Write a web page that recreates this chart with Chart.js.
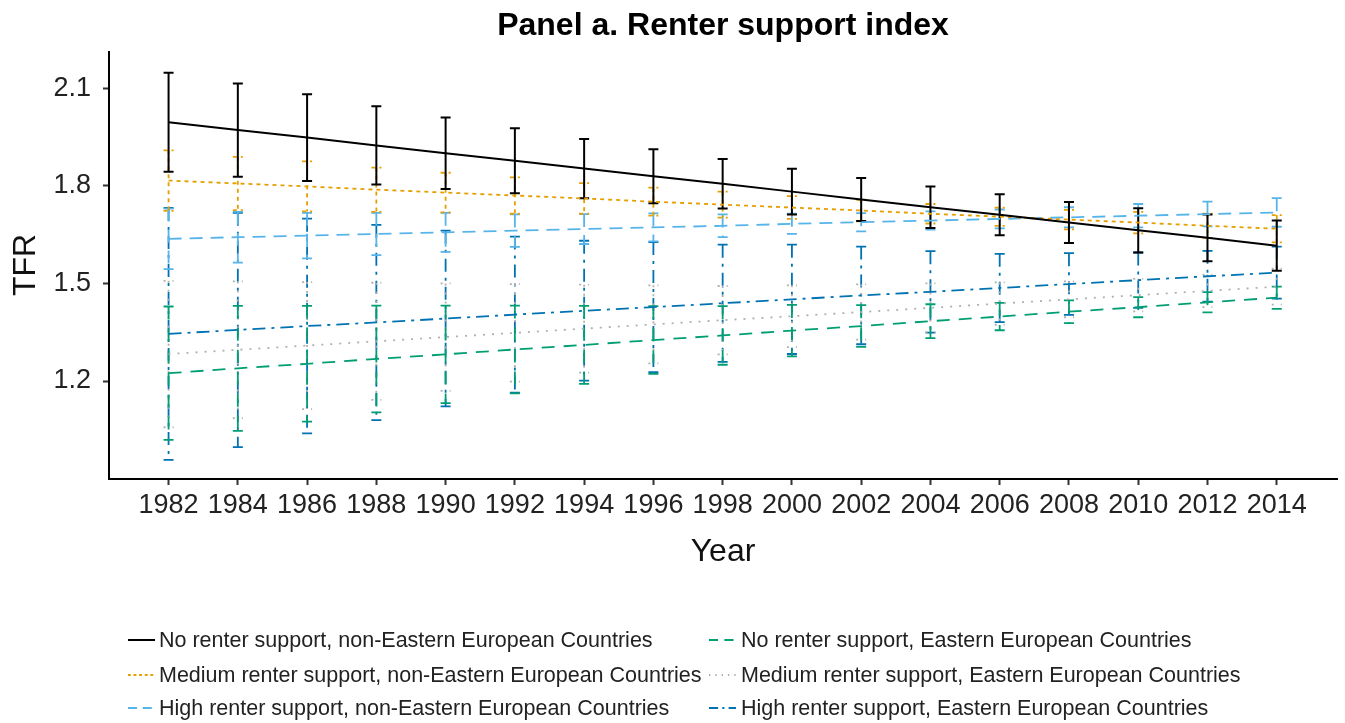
<!DOCTYPE html>
<html>
<head>
<meta charset="utf-8">
<script src="https://cdn.jsdelivr.net/npm/chart.js@4.4.1/dist/chart.umd.min.js"></script>
<style>
  body { margin: 0; background: #fff; }
  #wrap { width: 1345px; height: 723px; }
</style>
</head>
<body>
<div id="wrap"><canvas id="tfr-chart" width="1345" height="723"></canvas></div>
<script>
// survey years
const years = [1982, 1984, 1986, 1988, 1990, 1992, 1994, 1996, 1998, 2000, 2002, 2004, 2006, 2008, 2010, 2012, 2014];
const yTicks = [1.2, 1.5, 1.8, 2.1];

// predicted TFR and 95% CI half-widths, non-Eastern European countries
const noNonEast = [1.995, 1.971, 1.948, 1.924, 1.900, 1.877, 1.853, 1.829, 1.806, 1.782, 1.758, 1.734, 1.711, 1.687, 1.663, 1.640, 1.616];
const noNonEastErr = [0.152, 0.143, 0.133, 0.120, 0.110, 0.100, 0.091, 0.083, 0.076, 0.070, 0.066, 0.064, 0.063, 0.063, 0.068, 0.072, 0.077];
const medNonEast = [1.816, 1.807, 1.798, 1.788, 1.779, 1.770, 1.761, 1.751, 1.742, 1.733, 1.724, 1.714, 1.705, 1.696, 1.687, 1.677, 1.668];
const medNonEastErr = [0.093, 0.082, 0.077, 0.068, 0.061, 0.056, 0.047, 0.043, 0.040, 0.035, 0.033, 0.030, 0.028, 0.030, 0.033, 0.037, 0.042];
const highNonEast = [1.637, 1.642, 1.647, 1.652, 1.657, 1.662, 1.667, 1.672, 1.677, 1.683, 1.688, 1.693, 1.698, 1.703, 1.708, 1.713, 1.718];
const highNonEastErr = [0.093, 0.078, 0.070, 0.065, 0.060, 0.050, 0.046, 0.043, 0.035, 0.031, 0.028, 0.028, 0.029, 0.031, 0.036, 0.038, 0.044];

// Eastern European countries
const noEast = [1.224, 1.239, 1.253, 1.268, 1.282, 1.297, 1.311, 1.326, 1.340, 1.355, 1.369, 1.384, 1.398, 1.413, 1.427, 1.442, 1.456];
const noEastErr = [0.205, 0.192, 0.178, 0.164, 0.150, 0.135, 0.120, 0.104, 0.090, 0.079, 0.064, 0.052, 0.042, 0.035, 0.031, 0.031, 0.034];
const medEast = [1.283, 1.296, 1.309, 1.322, 1.335, 1.348, 1.361, 1.374, 1.387, 1.399, 1.412, 1.425, 1.438, 1.451, 1.464, 1.477, 1.490];
const medEastErr = [0.225, 0.210, 0.195, 0.180, 0.165, 0.150, 0.135, 0.120, 0.105, 0.095, 0.085, 0.075, 0.065, 0.055, 0.050, 0.050, 0.055];
const highEast = [1.345, 1.357, 1.369, 1.380, 1.392, 1.404, 1.416, 1.427, 1.439, 1.451, 1.463, 1.474, 1.486, 1.498, 1.510, 1.522, 1.533];
const highEastErr = [0.387, 0.360, 0.330, 0.300, 0.270, 0.240, 0.215, 0.200, 0.180, 0.168, 0.150, 0.125, 0.105, 0.095, 0.085, 0.078, 0.080];

const FONT = "'Liberation Sans', Arial, Helvetica, sans-serif";

const series = [
  { label: 'No renter support, non-Eastern European Countries', values: noNonEast, err: noNonEastErr, color: '#000000', dash: [], width: 2 },
  { label: 'Medium renter support, non-Eastern European Countries', values: medNonEast, err: medNonEastErr, color: '#E69F00', dash: [4, 4], width: 1.8 },
  { label: 'High renter support, non-Eastern European Countries', values: highNonEast, err: highNonEastErr, color: '#56B4E9', dash: [13, 8], width: 1.8 },
  { label: 'No renter support, Eastern European Countries', values: noEast, err: noEastErr, color: '#009E73', dash: [13, 9], width: 1.8 },
  { label: 'Medium renter support, Eastern European Countries', values: medEast, err: medEastErr, color: '#B0B0B0', dash: [2, 7], width: 1.8 },
  { label: 'High renter support, Eastern European Countries', values: highEast, err: highEastErr, color: '#0072B2', dash: [13, 6, 3, 6], width: 1.8 }
];

// vertical CI bars with caps, drawn under the fitted lines
const errorBars = {
  id: 'errorBars',
  beforeDatasetsDraw(chart) {
    const { ctx, scales: { x, y } } = chart;
    for (let i = series.length - 1; i >= 0; i--) {
      const s = series[i];
      ctx.save();
      ctx.strokeStyle = s.color;
      ctx.lineWidth = s.width;
      ctx.setLineDash(s.dash);
      s.values.forEach((v, j) => {
        const px = x.getPixelForValue(years[j]);
        const top = y.getPixelForValue(v + s.err[j]);
        const bot = y.getPixelForValue(v - s.err[j]);
        ctx.beginPath();
        ctx.moveTo(px, top);
        ctx.lineTo(px, bot);
        ctx.stroke();
        ctx.beginPath();
        ctx.moveTo(px - 5, top);
        ctx.lineTo(px + 5, top);
        ctx.moveTo(px - 5, bot);
        ctx.lineTo(px + 5, bot);
        ctx.stroke();
      });
      ctx.restore();
    }
  }
};

// title, axis titles and the two-column legend underneath
const decorations = {
  id: 'decorations',
  afterDraw(chart) {
    const { ctx, chartArea } = chart;
    const cx = (chartArea.left + chartArea.right) / 2;
    ctx.save();
    ctx.fillStyle = '#000';
    ctx.textAlign = 'center';
    ctx.textBaseline = 'middle';
    ctx.font = 'bold 32px ' + FONT;
    ctx.fillText('Panel a. Renter support index', cx, 26);

    ctx.fillStyle = '#111';
    ctx.font = '32px ' + FONT;
    ctx.fillText('Year', cx, 552);
    ctx.save();
    ctx.translate(26, 265);
    ctx.rotate(-Math.PI / 2);
    ctx.fillText('TFR', 0, 0);
    ctx.restore();

    const cols = [{ key: 128, text: 159 }, { key: 709, text: 741 }];
    const rows = [640, 675, 708];
    ctx.font = '21.5px ' + FONT;
    ctx.textAlign = 'left';
    series.forEach((s, i) => {
      const col = cols[Math.floor(i / 3)];
      const ry = rows[i % 3];
      ctx.save();
      ctx.strokeStyle = s.color;
      ctx.lineWidth = s.width;
      ctx.setLineDash(s.dash.map(d => d * 0.7));
      ctx.beginPath();
      ctx.moveTo(col.key, ry);
      ctx.lineTo(col.key + 27, ry);
      ctx.stroke();
      ctx.restore();
      ctx.fillStyle = '#222';
      ctx.fillText(s.label, col.text, ry + 1);
    });
    ctx.restore();
  }
};

new Chart(document.getElementById('tfr-chart').getContext('2d'), {
  type: 'line',
  data: {
    datasets: series.map(s => ({
      label: s.label,
      data: s.values.map((v, j) => ({ x: years[j], y: v })),
      borderColor: s.color,
      borderWidth: s.width,
      borderDash: s.dash,
      pointRadius: 0,
      fill: false,
      tension: 0
    }))
  },
  options: {
    responsive: false,
    animation: false,
    layout: { padding: { top: 52, right: 8, left: 0, bottom: 0 } },
    plugins: { legend: { display: false }, tooltip: { enabled: false } },
    scales: {
      x: {
        type: 'linear',
        min: 1980.28,
        max: 2015.74,
        afterFit: s => { s.height = 244; },
        afterBuildTicks: s => { s.ticks = years.map(v => ({ value: v })); },
        border: { display: true, color: '#000', width: 2 },
        grid: { drawOnChartArea: false, drawTicks: true, tickLength: 6, tickWidth: 2, tickColor: '#333' },
        ticks: {
          autoSkip: false, maxRotation: 0, minRotation: 0, padding: 4,
          color: '#222', font: { family: FONT, size: 27 },
          callback: v => String(v)
        }
      },
      y: {
        min: 0.899,
        max: 2.211,
        afterFit: s => { s.width = 109; },
        afterBuildTicks: s => { s.ticks = yTicks.map(v => ({ value: v })); },
        border: { display: true, color: '#000', width: 2 },
        grid: { drawOnChartArea: false, drawTicks: true, tickLength: 6, tickWidth: 2, tickColor: '#333' },
        ticks: {
          padding: 12,
          color: '#222', font: { family: FONT, size: 27 },
          callback: v => v.toFixed(1)
        }
      }
    }
  },
  plugins: [errorBars, decorations]
});
</script>
</body>
</html>
